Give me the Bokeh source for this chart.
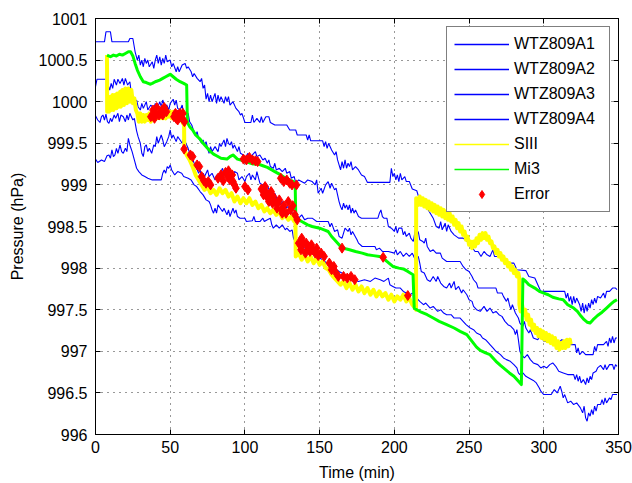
from bokeh.plotting import figure
from bokeh.models import Range1d, LinearAxis, FixedTicker, Legend, LegendItem
from bokeh.embed import file_html
from bokeh.resources import INLINE

# ---------------- data ----------------
x_ticks = [0, 50, 100, 150, 200, 250, 300, 350]
y_ticks = [996, 996.5, 997, 997.5, 998, 998.5, 999, 999.5, 1000, 1000.5, 1001]
y_tick_labels = ["996", "996.5", "997", "997.5", "998", "998.5", "999", "999.5",
                 "1000", "1000.5", "1001"]
series_names = ["WTZ809A1", "WTZ809A2", "WTZ809A3", "WTZ809A4", "SIII", "Mi3", "Error"]

# (time min, pressure hPa)
wtz_a1 = [(0,1000.72),(6,1000.72),(7,1000.84),(10,1000.84),(11,1000.72),(22,1000.72),(23,1000.76),(25,1000.76),(26.5,1000.6),(28,1000.5),(29,1000.56),(30,1000.44),(31,1000.5),(32,1000.42),(33,1000.52),(34,1000.46),(35,1000.5),(36,1000.42),(38,1000.48),(39,1000.4),(40,1000.5),(41,1000.56),(42,1000.46),(43,1000.54),(44,1000.44),(45,1000.52),(46,1000.46),(47,1000.56),(48,1000.48),(50,1000.5),(51,1000.42),(52,1000.46),(54,1000.36),(55,1000.42),(56,1000.36),(58,1000.44),(60,1000.46),(61,1000.4),(62,1000.42),(64,1000.36),(65,1000.3),(66,1000.34),(68,1000.28),(70,1000.24),(71,1000.28),(72,1000.16),(73,1000.2),(74,1000.03),(75,1000.1),(76,1000.0),(77,1000.08),(78,1000.0),(80,1000.1),(81,999.98),(82,1000.08),(83,1000.0),(84,1000.06),(86,999.98),(87,1000.06),(88,1000.0),(89,1000.06),(90,999.96),(92,1000.0),(94,999.92),(96,999.88),(97,999.84),(98,999.86),(100,999.75),(104,999.75),(105,999.84),(106,999.75),(108,999.8),(110,999.75),(111,999.82),(112,999.75),(114,999.82),(116,999.82),(117,999.75),(120,999.72),(128,999.72),(130,999.66),(134,999.66),(135,999.6),(141,999.6),(142,999.54),(143,999.6),(144,999.53),(152,999.53),(153,999.46),(154,999.52),(155,999.44),(156,999.5),(158,999.42),(160,999.36),(161,999.4),(162,999.3),(163,999.24),(164,999.18),(165,999.28),(166,999.2),(167,999.3),(168,999.2),(169,999.26),(170,999.22),(171,999.28),(172,999.18),(174,999.22),(176,999.18),(178,999.12),(180,999.1),(182,999.03),(197,999.03),(198,999.2),(199,999.1),(200,999.14),(201,999.06),(202,999.12),(203,999.04),(204,999.14),(205,999.06),(207,999.1),(208,999.04),(210,999.04),(212,998.95),(215,998.93),(217,998.81),(220,998.78),(224,998.66),(226,998.6),(228,998.5),(230,998.48),(231,998.56),(232,998.46),(234,998.54),(235,998.44),(236,998.52),(238,998.44),(240,998.4),(243,998.36),(246,998.36),(250,998.3),(254,998.2),(256,998.2),(258,998.14),(260,998.2),(262,998.16),(264,998.14),(266,998.22),(267,998.14),(270,998.14),(272,998.1),(276,998.06),(280,998.06),(282,997.98),(288,997.97),(290,997.9),(294,997.88),(296,997.8),(298,997.72),(314,997.72),(315,997.64),(316,997.7),(317,997.6),(318,997.66),(319,997.56),(320,997.66),(321,997.58),(322,997.64),(324,997.56),(325,997.48),(326,997.58),(327,997.46),(328,997.56),(329,997.48),(330,997.58),(331,997.52),(332,997.62),(333,997.56),(334,997.64),(335,997.58),(336,997.66),(338,997.64),(340,997.7),(341,997.64),(342,997.72),(344,997.72),(346,997.76),(348,997.76),(349,997.74)]

wtz_a2 = [(0,1000.18),(1,1000.27),(7.7,1000.27),(8.5,1000.2),(9.5,1000.14),(10.5,1000.22),(11.5,1000.16),(12.5,1000.27),(14,1000.2),(15,1000.27),(16.4,1000.22),(18,1000.28),(19,1000.2),(20,1000.28),(21.5,1000.2),(23,1000.24),(24,1000.1),(25,1000.03),(26,999.98),(27.5,1000.02),(28.5,999.94),(30,999.9),(31,999.98),(32,999.92),(34,1000.0),(35,999.9),(37,999.96),(39,999.92),(40,999.98),(41,999.9),(43,1000.0),(44,999.94),(45,1000.02),(46.5,999.94),(47.7,999.96),(49,999.9),(50,999.98),(52,1000.03),(53,999.96),(54,1000.02),(55,999.92),(56.6,999.9),(58,999.96),(59,999.86),(61,999.84),(62,999.86),(63,999.76),(64.4,999.72),(65.5,999.66),(67,999.6),(68,999.64),(69,999.56),(71,999.5),(72,999.54),(73,999.48),(74,999.52),(75,999.44),(76,999.38),(77,999.46),(78,999.4),(80,999.46),(82,999.4),(83,999.5),(84,999.46),(86,999.54),(87,999.46),(88,999.56),(89,999.5),(90,999.48),(91,999.52),(92,999.44),(93,999.48),(95,999.4),(96,999.46),(97,999.38),(99,999.36),(100,999.32),(102,999.38),(103,999.32),(105,999.36),(107,999.4),(108,999.34),(110,999.36),(112,999.3),(113.5,999.32),(115,999.26),(116,999.3),(117,999.22),(119,999.2),(120,999.26),(121,999.18),(123,999.2),(125,999.16),(127,999.2),(128,999.14),(130,999.16),(131,999.08),(133,999.1),(134,999.02),(136,999.06),(140,999.02),(142,999.06),(145,999.04),(147,999.0),(148,999.06),(149,998.9),(151,998.96),(152,998.9),(154,999.0),(155.7,999.04),(157,998.96),(158,999.02),(160,998.94),(161,998.96),(162,998.88),(163,998.8),(164,998.74),(165,998.7),(166,998.78),(167,998.72),(168,998.76),(169,998.7),(170,998.76),(171,998.66),(172,998.72),(173,998.66),(174,998.7),(176,998.62),(178,998.6),(189,998.6),(190,998.66),(191,998.7),(192,998.62),(193,998.6),(195,998.6),(196,998.5),(198,998.48),(200,998.44),(201,998.5),(202,998.42),(203,998.48),(205,998.48),(206,998.4),(207,998.44),(208,998.38),(210,998.42),(211,998.36),(212.7,998.32),(214,998.46),(215,998.38),(216,998.44),(217,998.34),(219,998.32),(220,998.3),(221,998.36),(222,998.26),(224,998.2),(226,998.22),(228,998.18),(230.8,998.18),(232,998.12),(235,998.08),(244,998.08),(246,998.02),(248,997.98),(250,997.96),(252,997.9),(253,997.86),(255,997.82),(256,997.76),(268,997.76),(269,997.7),(272,997.7),(273,997.66),(275,997.6),(276,997.64),(277,997.56),(278,997.5),(279,997.56),(281,997.46),(283,997.4),(284,997.34),(286,997.3),(287,997.36),(288,997.28),(290,997.22),(291,997.26),(293,997.16),(296,997.14),(298,997.2),(300,997.12),(303,997.12),(304,997.18),(305,997.12),(308,997.1),(310,997.1),(312,997.14),(315,997.12),(318,997.08),(321,997.08),(322,996.98),(323,997.04),(324,996.96),(326,997.0),(328,996.96),(333,996.96),(334,997.06),(335,997.0),(336,997.08),(340,997.08),(342,997.12),(343,997.06),(344,997.16),(345,997.1),(346,997.18),(347,997.1),(348,997.16),(349,997.16)]

wtz_a3 = [(0,999.83),(1.5,999.78),(3,999.75),(4,999.82),(5,999.84),(6,999.78),(7,999.85),(8,999.76),(9,999.74),(10,999.8),(11,999.76),(12.5,999.84),(13.5,999.8),(15,999.86),(16,999.76),(17,999.84),(18.6,999.82),(20,999.76),(21,999.84),(22,999.78),(23,999.86),(24,999.82),(25,999.78),(26,999.8),(27.5,999.65),(28.5,999.58),(30,999.5),(31,999.38),(32,999.34),(33,999.46),(34,999.48),(35,999.4),(36,999.44),(37.6,999.38),(39,999.48),(40,999.46),(41,999.58),(42,999.5),(44,999.6),(45,999.54),(46,999.46),(47.7,999.52),(49,999.58),(50,999.66),(51,999.56),(52,999.6),(54,999.52),(55,999.58),(56.6,999.54),(58,999.5),(59,999.56),(61,999.48),(62,999.44),(63,999.38),(64.4,999.34),(66,999.26),(67.7,999.2),(69,999.14),(70,999.18),(71,999.08),(72,999.14),(73,999.1),(75,999.18),(76,999.1),(78,999.14),(80,999.06),(81,999.12),(82,999.08),(84,999.16),(85,999.2),(86,999.12),(88,999.14),(89,999.06),(90,999.12),(92,999.08),(93,999.16),(95,999.14),(96,999.06),(98,999.1),(100,999.04),(101,999.1),(103,999.14),(104,999.06),(105,999.12),(107,999.06),(108,999.16),(110,999.02),(112,999.0),(114,998.96),(115,999.0),(117,998.9),(119,998.86),(120,998.9),(122,998.8),(124,998.76),(125,998.8),(127,998.72),(129,998.74),(130,998.68),(132,998.66),(133.6,998.62),(136,998.6),(138,998.64),(140,998.58),(142,998.6),(145,998.6),(148,998.56),(152,998.56),(155.7,998.56),(157,998.5),(158,998.54),(160,998.44),(162,998.46),(163,998.38),(165,998.36),(166,998.42),(167,998.48),(169,998.44),(170,998.48),(171,998.4),(172,998.44),(173.8,998.38),(175,998.34),(176,998.3),(178.5,998.26),(187,998.26),(188,998.22),(190,998.24),(192,998.2),(196,998.2),(200,998.18),(201,998.22),(202,998.16),(204,998.2),(206,998.14),(208,998.18),(210,998.14),(212,998.18),(214,998.1),(216,998.14),(217,998.06),(218,997.96),(220,997.94),(222,997.86),(224,997.84),(226,997.9),(228,997.84),(229,997.9),(231,997.82),(233,997.78),(235,997.76),(237,997.82),(238,997.76),(240,997.84),(241,997.74),(243,997.78),(245,997.7),(246,997.74),(248.5,997.68),(250,997.62),(252,997.6),(253,997.54),(255,997.5),(257.5,997.48),(260,997.54),(262,997.48),(264,997.52),(266,997.46),(268,997.48),(270,997.44),(272,997.42),(274,997.36),(276,997.32),(278,997.3),(280,997.26),(281,997.2),(282,997.26),(283,997.14),(284,997.0),(285,996.96),(287,996.92),(289,996.96),(291,996.9),(293,996.86),(296,996.84),(298,996.8),(300,996.82),(302,996.8),(304,996.84),(306,996.86),(308,996.82),(310,996.76),(313,996.74),(316,996.72),(320,996.72),(321,996.66),(322,996.72),(323,996.64),(324,996.7),(325,996.62),(326.5,996.66),(328,996.6),(329,996.68),(330,996.62),(331,996.7),(332,996.66),(333,996.74),(335,996.76),(336,996.8),(338,996.83),(340,996.78),(341,996.84),(342,996.78),(344,996.84),(346,996.84),(347,996.78),(348,996.84),(349,996.82)]

wtz_a4 = [(0,999.31),(1.5,999.27),(4,999.3),(6,999.28),(7.7,999.35),(9,999.36),(10,999.32),(11,999.42),(12,999.34),(13,999.36),(14,999.44),(15,999.38),(16.4,999.48),(17.5,999.4),(18.6,999.38),(20,999.44),(21,999.4),(22,999.56),(23,999.48),(24.5,999.4),(26,999.3),(27.5,999.2),(29,999.16),(31,999.12),(33,999.1),(35,999.08),(38,999.06),(44,999.06),(45,999.14),(46,999.18),(47,999.14),(48,999.22),(49,999.2),(50,999.24),(51,999.18),(53,999.12),(55,999.16),(57.7,999.14),(59,999.1),(62,999.08),(64,999.06),(66,999.0),(67.7,998.98),(70,998.92),(72,998.88),(74,998.82),(76,998.8),(77,998.76),(78,998.7),(79,998.66),(80,998.72),(81,998.66),(82,998.76),(83.5,998.72),(85,998.68),(86,998.72),(88,998.64),(89,998.7),(90,998.62),(92,998.72),(93,998.66),(94,998.7),(95,998.62),(96.7,998.6),(100,998.6),(101,998.56),(105,998.57),(106,998.62),(107,998.56),(110,998.56),(112,998.6),(113,998.56),(115,998.58),(117,998.6),(118,998.52),(119,998.48),(121,998.52),(123,998.48),(125,998.52),(127,998.46),(128,998.48),(130,998.44),(131.6,998.46),(132.5,998.36),(133.6,998.32),(136,998.3),(140,998.24),(144,998.2),(148,998.14),(152,998.1),(156,998.04),(160,998.0),(163,997.96),(167,997.92),(170,997.88),(173,997.86),(176,997.84),(180,997.86),(184,997.84),(187,997.88),(190.6,997.86),(193,997.84),(196,997.88),(197,997.8),(199,997.78),(201,997.76),(204,997.76),(206,997.72),(208,997.7),(210.6,997.68),(212,997.7),(215,997.64),(217,997.6),(219.5,997.56),(221,997.58),(224,997.52),(226,997.54),(229,997.48),(231,997.5),(233,997.46),(235,997.44),(238,997.44),(240,997.4),(244,997.4),(246,997.36),(248,997.32),(250.8,997.28),(253,997.26),(255,997.22),(257.5,997.2),(259,997.16),(261,997.14),(263,997.1),(264,997.08),(266,997.04),(268,997.0),(271,996.96),(273,996.92),(275,996.9),(277.6,996.88),(280,996.84),(282,996.8),(283,996.74),(284,996.72),(286,996.74),(288,996.7),(290,996.68),(293,996.65),(295,996.62),(297,996.56),(298,996.52),(300,996.48),(305,996.48),(307,996.54),(309,996.5),(311,996.58),(312,996.52),(313,996.44),(314,996.48),(316,996.38),(318,996.4),(320,996.36),(322,996.38),(324.5,996.32),(326,996.26),(327,996.34),(328,996.2),(329,996.16),(330,996.26),(331,996.22),(332,996.3),(333,996.24),(334,996.34),(335,996.28),(336,996.36),(338,996.36),(339,996.42),(340,996.36),(341,996.44),(342,996.38),(344,996.44),(345,996.42),(346,996.48),(348,996.48),(349,996.48)]

siii = [(7.7,1000.56),(7.8,999.88),(8.5,1000.04),(9,999.88),(10,1000.06),(10.5,999.9),(11.5,1000.08),(12,999.9),(13,1000.08),(14,999.92),(14.5,1000.1),(15.5,999.94),(16.5,1000.12),(17,999.94),(18,1000.14),(19,999.96),(20,1000.16),(21,999.98),(22,1000.16),(23,1000.0),(24,1000.14),(25,999.98),(26,1000.04),(27,999.9),(28,999.86),(29,999.76),(30,999.86),(31,999.76),(32,999.84),(33,999.76),(34,999.84),(35,999.78),(36,999.86),(37,999.76),(38,999.84),(39,999.78),(40,999.86),(41,999.8),(42,999.88),(43,999.8),(44,999.88),(45,999.8),(46,999.86),(47,999.8),(48,999.88),(49,999.82),(50,999.88),(51,999.8),(52,999.88),(53,999.8),(54,999.86),(55,999.78),(56,999.84),(57,999.78),(58,999.76),(59.3,999.72),(59.4,999.42),(61,999.36),(63,999.3),(65,999.22),(67,999.12),(69,999.06),(71,999.0),(73,998.94),(75,998.98),(77,998.9),(79,998.94),(81,998.88),(83,998.96),(85,998.9),(87,998.94),(89,998.86),(91,998.9),(93,998.8),(95,998.86),(97,998.78),(99,998.84),(101,998.78),(103,998.84),(105,998.76),(107,998.8),(109,998.72),(111,998.76),(113,998.68),(115,998.72),(117,998.66),(119,998.7),(121,998.64),(123,998.68),(125,998.6),(127,998.64),(129,998.58),(131,998.62),(133,998.56),(133.8,998.58),(134,998.14),(136,998.18),(138,998.1),(140,998.16),(142,998.08),(144,998.14),(146,998.06),(148,998.12),(150,998.04),(152,998.08),(154,998.0),(156,997.98),(158,997.92),(160,997.88),(162,997.84),(164,997.8),(166,997.84),(168,997.76),(170,997.82),(172,997.74),(174,997.8),(176,997.72),(178,997.78),(180,997.7),(182,997.76),(184,997.68),(186,997.74),(188,997.66),(190,997.72),(192,997.66),(194,997.7),(196,997.62),(198,997.68),(200,997.6),(202,997.66),(204,997.62),(206,997.68),(208,997.6),(210,997.64),(212,997.56),(214,997.52),(214.5,997.5),(214.6,998.84),(216,998.76),(217,998.86),(218,998.76),(219,998.84),(220,998.74),(221,998.82),(222,998.72),(223,998.8),(224,998.7),(225,998.78),(226,998.68),(227,998.76),(228,998.66),(229,998.74),(230,998.64),(231,998.72),(232,998.62),(233,998.7),(234,998.6),(235,998.68),(236,998.58),(237,998.66),(238,998.56),(239,998.62),(240,998.52),(241,998.58),(242,998.48),(243,998.54),(244,998.44),(245,998.5),(246,998.4),(247,998.44),(248,998.34),(249,998.38),(250,998.28),(251,998.32),(252,998.24),(253,998.32),(254,998.26),(255,998.36),(256,998.3),(257,998.4),(258,998.34),(259,998.42),(260,998.36),(261,998.42),(262,998.34),(263,998.38),(264,998.3),(265,998.32),(266,998.24),(267,998.26),(268,998.18),(269,998.22),(270,998.14),(271,998.18),(272,998.1),(273,998.14),(274,998.06),(275,998.1),(276,998.02),(277,998.06),(278,997.98),(279,998.02),(280,997.94),(281,997.98),(282,997.9),(283,997.94),(283.6,997.88),(283.7,997.56),(284.5,997.48),(285.5,997.56),(286.5,997.44),(287.5,997.5),(288.5,997.38),(289.5,997.44),(290.5,997.32),(291.5,997.38),(292.5,997.26),(293.5,997.32),(294.5,997.22),(295.5,997.28),(296.5,997.18),(297.5,997.26),(298.5,997.16),(299.5,997.24),(300.5,997.14),(301.5,997.22),(302.5,997.12),(303.5,997.2),(304.5,997.1),(305.5,997.18),(306.5,997.08),(307.5,997.16),(308.5,997.04),(309.5,997.12),(310.5,997.02),(311.5,997.1),(312.5,997.04),(313.5,997.12),(314.5,997.04),(315.5,997.14),(316.5,997.06),(317.5,997.14),(318,997.08)]

mi3 = [(7.7,1000.56),(10,1000.54),(12,1000.56),(14,1000.55),(16,1000.57),(18,1000.56),(20,1000.58),(22,1000.6),(23.5,1000.6),(25,1000.55),(26.5,1000.46),(28,1000.38),(30,1000.3),(32,1000.24),(34,1000.23),(36.5,1000.21),(38,1000.22),(40,1000.24),(43,1000.26),(45,1000.28),(47,1000.3),(49,1000.32),(50,1000.33),(52,1000.3),(54,1000.27),(56.6,1000.24),(59,1000.22),(61,1000.2),(61.5,999.75),(63,999.7),(65,999.66),(67,999.6),(70,999.55),(72,999.5),(74.5,999.45),(77,999.4),(79,999.37),(81,999.35),(84,999.32),(88,999.31),(90,999.34),(92,999.36),(95,999.31),(99,999.29),(102,999.27),(105.5,999.25),(109,999.25),(112,999.23),(115,999.21),(118,999.18),(120,999.16),(124,999.12),(128,999.07),(131,999.05),(133.6,999.03),(134,998.62),(136,998.58),(138,998.56),(142,998.52),(145,998.5),(150,998.48),(153,998.46),(155.7,998.44),(158,998.38),(160,998.34),(163,998.28),(165,998.24),(168,998.23),(170,998.22),(174,998.2),(178.5,998.18),(182,998.16),(186,998.15),(190,998.14),(192,998.13),(195,998.08),(199,998.02),(203,998.0),(206,997.99),(209,997.96),(212.5,997.92),(213.3,997.52),(215,997.5),(218,997.47),(222,997.44),(226,997.4),(230,997.36),(235,997.32),(240,997.28),(244,997.24),(248.5,997.2),(252,997.12),(255,997.05),(257.5,997.01),(261,996.98),(264,996.96),(268,996.88),(271,996.83),(273,996.8),(277,996.74),(280,996.7),(282,996.66),(285,996.6),(286,997.87),(288,997.84),(290,997.8),(294,997.76),(297,997.72),(300,997.7),(303,997.68),(306,997.65),(310,997.63),(313,997.62),(316,997.56),(318,997.54),(320,997.52),(322.5,997.48),(325,997.42),(327,997.38),(329,997.35),(331,997.34),(333,997.38),(336,997.43),(339,997.47),(342,997.52),(345,997.57),(347,997.6),(349,997.62)]

error_pts = [(37,999.82),(38.5,999.9),(39.5,999.8),(40,999.86),(41,999.93),(42.5,999.84),(43.5,999.86),(44.5,999.9),(45,999.84),(46,999.93),(47.5,999.88),(52.5,999.82),(53.5,999.86),(54,999.8),(55,999.84),(56.5,999.86),(57,999.82),(58.5,999.86),(58,999.8),(59.5,999.76),(55,999.78),(59.3,999.43),(63.5,999.36),(65,999.34),(68,999.24),(69.5,999.22),(71,999.1),(72.5,999.05),(74,999.02),(75.5,999.04),(77,999.0),(82,999.08),(84,999.12),(85.5,999.05),(87,999.15),(88.5,999.1),(89,999.17),(90,999.06),(91.5,999.12),(92,999.04),(93,999.0),(94,998.96),(100,998.98),(102,998.94),(99,999.31),(101,999.3),(103,999.33),(105,999.3),(107,999.29),(108.5,999.28),(111,998.95),(112.5,998.88),(113.5,998.98),(114,998.92),(115,998.85),(116,998.8),(116.5,998.86),(117.5,998.92),(118.5,998.78),(119,998.86),(120,998.8),(121.5,998.72),(122,998.78),(123,998.82),(124.5,998.7),(125,998.66),(126,998.75),(127.5,998.66),(124,999.08),(126,999.04),(128,999.06),(130,999.02),(131.5,999.0),(129,998.8),(130.5,998.7),(132,998.75),(133.5,998.64),(135,998.58),(134.5,999.0),(136,998.3),(137.5,998.22),(138,998.36),(139,998.3),(140.5,998.18),(141,998.3),(142,998.25),(143.5,998.2),(144.5,998.28),(145,998.22),(147,998.18),(148,998.24),(149,998.15),(151,998.18),(153,998.14),(156.5,998.06),(158,997.98),(159.5,998.02),(161,997.94),(162.5,997.9),(166,997.9),(168.5,997.88),(171,997.9),(173.5,997.86),(165,998.24),(192.5,998.13),(209,997.67)]

# ---------------- figure ----------------
FONT = "Liberation Sans"
NAN = float("nan")

p = figure(width=632, height=483, x_range=Range1d(0, 350), y_range=Range1d(996, 1001),
           output_backend="svg", toolbar_location=None,
           min_border_left=95, min_border_right=14, min_border_top=18, min_border_bottom=45,
           background_fill_color="white", border_fill_color="white")
p.outline_line_color = "black"

def split(pairs):
    return [a for a, _ in pairs], [b for _, b in pairs]

blue = "#0000ff"
for data in (wtz_a1, wtz_a2, wtz_a3, wtz_a4):
    xs, ys = split(data)
    p.line(xs, ys, line_color=blue, line_width=1.1)
xs, ys = split(siii)
p.line(xs, ys, line_color="#ffff00", line_width=4, line_join="round")
xs, ys = split(mi3)
p.line(xs, ys, line_color="#00ff00", line_width=3, line_join="round")
xs, ys = split(error_pts)
p.scatter(xs, ys, marker="diamond", size=10, fill_color="#ff0000", line_color="#ff0000")

# legend proxies (thin lines, as in the reference legend)
leg_colors = [blue, blue, blue, blue, "#ffff00", "#00ff00"]
items = []
for name, col in zip(series_names[:6], leg_colors):
    r = p.line([NAN, NAN], [NAN, NAN], line_color=col, line_width=1.5)
    items.append(LegendItem(label=name, renderers=[r]))
re = p.scatter([NAN], [NAN], marker="diamond", size=7, fill_color="#ff0000", line_color="#ff0000")
items.append(LegendItem(label=series_names[6], renderers=[re]))

legend = Legend(items=items, location="top_right", margin=8, padding=7, spacing=5,
                glyph_width=55, glyph_height=20, label_height=20, label_width=88,
                label_standoff=5, label_text_font=FONT, label_text_font_size="16px",
                label_text_color="black", border_line_color="black", border_line_width=1,
                background_fill_color="white", background_fill_alpha=1.0)
p.add_layout(legend)

# axes: box with inward ticks on all four sides
left_ax = p.left[0]
bottom_ax = p.below[0]
right_ax = LinearAxis()
top_ax = LinearAxis()
p.add_layout(right_ax, "right")
p.add_layout(top_ax, "above")

overrides = {float(t): lab for t, lab in zip(y_ticks, y_tick_labels)}
left_ax.ticker = FixedTicker(ticks=y_ticks)
left_ax.major_label_overrides = overrides
right_ax.ticker = FixedTicker(ticks=y_ticks)
right_ax.major_label_overrides = {float(t): "" for t in y_ticks}
bottom_ax.ticker = FixedTicker(ticks=x_ticks)
top_ax.ticker = FixedTicker(ticks=x_ticks)
top_ax.major_label_overrides = {float(t): "" for t in x_ticks}

for ax in (left_ax, bottom_ax, right_ax, top_ax):
    ax.axis_line_color = "black"
    ax.axis_line_width = 1
    ax.major_tick_in = 5
    ax.major_tick_out = 0
    ax.minor_tick_in = 0
    ax.minor_tick_out = 0
    ax.major_tick_line_color = "black"
    ax.major_label_text_font = FONT
    ax.major_label_text_font_size = "16px"
    ax.major_label_text_color = "black"

left_ax.major_label_standoff = 8
bottom_ax.major_label_standoff = 6
right_ax.major_label_standoff = 0
top_ax.major_label_standoff = 0

left_ax.axis_label = "Pressure (hPa)"
bottom_ax.axis_label = "Time (min)"
for ax in (left_ax, bottom_ax):
    ax.axis_label_text_font = FONT
    ax.axis_label_text_font_size = "16px"
    ax.axis_label_text_font_style = "normal"
    ax.axis_label_text_color = "black"
left_ax.axis_label_standoff = 10
bottom_ax.axis_label_standoff = 8

for g, t in ((p.xgrid, x_ticks), (p.ygrid, y_ticks)):
    g.ticker = FixedTicker(ticks=t)
    g.grid_line_color = "black"
    g.grid_line_dash = "1 5"
    g.grid_line_width = 1
    g.grid_line_alpha = 0.8

open("out.html", "w").write(file_html(p, INLINE))
